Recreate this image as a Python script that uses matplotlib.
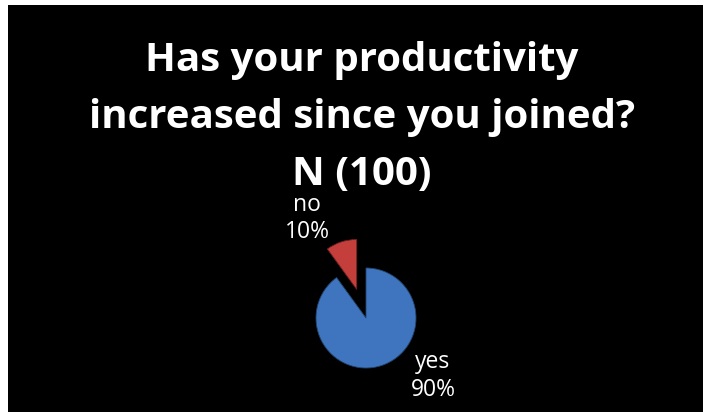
import matplotlib.pyplot as plt
from matplotlib.patches import Rectangle

# survey answers
answers = ["yes", "no"]
shares = [90, 10]
title_lines = ["Has your productivity", "increased since you joined?", "N (100)"]

W, H = 704, 412
fig = plt.figure(figsize=(W / 100, H / 100), dpi=100)
fig.patch.set_facecolor("white")

# black slide area
fig.patches.append(Rectangle((8 / W, 0), (703 - 8) / W, (H - 5) / H,
                             transform=fig.transFigure, facecolor="black",
                             edgecolor="none", zorder=-1))

# title, one line at a time
baselines = [71, 128, 185]
for line, y in zip(title_lines, baselines):
    fig.text(362 / W, 1 - y / H, line, ha="center", va="baseline",
             color="white", fontsize=29, fontweight="bold", family="Open Sans")

# pie centred at (366, 318) px with radius 50 px
cx, cy, half = 366, 318, 75
ax = fig.add_axes([(cx - half) / W, (H - cy - half) / H, 2 * half / W, 2 * half / H])
ax.set_zorder(2)
ax.patch.set_visible(False)
wedges, _ = ax.pie(shares, colors=["#3F75BF", "#C43E3B"], radius=50 / half,
                   startangle=90, counterclock=False, explode=[0, 0.4],
                   wedgeprops=dict(edgecolor="#22446e", linewidth=0.6))
wedges[1].set_edgecolor("#6e2020")
ax.set_xlim(-1, 1)
ax.set_ylim(-1, 1)
ax.axis("off")

# slice labels
label_pos = {"no": (307, 205, 232), "yes": (433, 362, 390)}
for name, val in zip(answers, shares):
    x, y1, y2 = label_pos[name]
    fig.text(x / W, 1 - y1 / H, name, ha="center", va="center",
             color="white", fontsize=16.5, family="Open Sans")
    fig.text(x / W, 1 - y2 / H, f"{val}%", ha="center", va="center",
             color="white", fontsize=16.5, family="Open Sans")

fig.savefig("out.png", dpi=100)
